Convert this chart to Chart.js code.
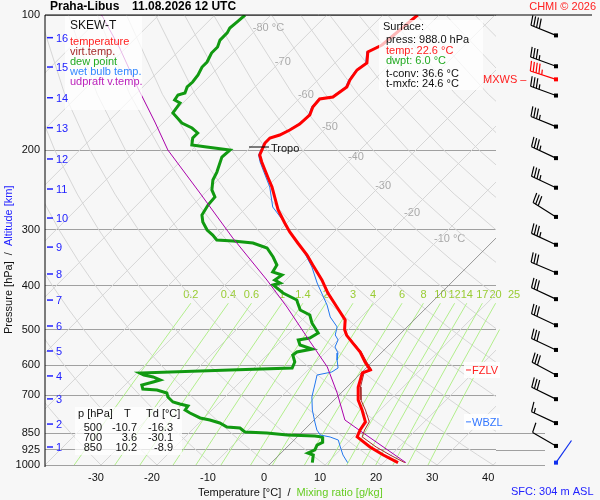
<!DOCTYPE html>
<html>
<head>
<meta charset="utf-8">
<script src="https://cdn.jsdelivr.net/npm/chart.js@4.4.1/dist/chart.umd.min.js"></script>
<style>
    html, body { margin: 0; padding: 0; background: #f7f7f7; }
    #wrap { width: 600px; height: 500px; position: relative; }
</style>
</head>
<body>
<div id="wrap"><canvas id="skewt"></canvas></div>
<script>
// sounding Praha-Libus 11.08.2026 12 UTC
const tempP = [100, 116.6, 120.8, 127.8, 132.5, 139.4, 144.5, 152.1, 153.7, 160.1, 166.8, 174.7, 180.1, 184.8, 187.7, 192.5, 199.5, 204.7, 212.1, 221, 230.2, 241.1, 255.1, 271.2, 289.9, 303.5, 321.1, 341.5, 359.4, 388, 414.8, 445.6, 476.2, 500, 515, 536, 561, 590, 615, 624, 671, 717, 755, 802, 836, 866, 912, 950, 988];
const tempT = [-53.8, -54.8, -56.1, -54.3, -54.8, -54.3, -53.6, -54.3, -56.3, -56.1, -55.2, -55.4, -56.1, -57.0, -58.2, -58.2, -57.5, -57.0, -55.4, -53.4, -51.4, -49.1, -46.6, -43.9, -40.4, -37.9, -34.5, -30.7, -27.9, -23.6, -20.2, -16.1, -12.3, -10.7, -9.3, -6.8, -3.9, -1.3, 1.1, 0.2, 2.0, 4.3, 6.8, 9.5, 10.0, 10.7, 14.8, 18.6, 22.6];
const virtT = [-53.8, -54.8, -56.1, -54.3, -54.8, -54.3, -53.6, -54.3, -56.3, -56.1, -55.2, -55.4, -56.1, -57.0, -58.2, -58.2, -57.5, -57.0, -55.4, -53.4, -51.4, -49.1, -46.6, -43.9, -40.4, -37.9, -34.4, -30.6, -27.8, -23.5, -20.1, -16.0, -12.2, -10.6, -9.2, -6.6, -3.7, -1.0, 1.4, 0.5, 2.4, 4.8, 7.4, 10.2, 10.8, 11.6, 15.9, 19.8, 23.8];

const dewP = [100, 103.7, 106.9, 109.6, 113.7, 117.8, 121.5, 127.2, 130.5, 135.9, 140.9, 144.5, 149.1, 150.6, 154.5, 156.9, 165.1, 173.8, 178.3, 182.9, 187.6, 194.5, 196.5, 199.5, 206.8, 223.4, 232.6, 244.8, 253.8, 264.4, 278.3, 288.4, 300.5, 308.3, 316.2, 317.9, 321.1, 329.4, 345, 359.4, 372.5, 378.3, 388.1, 394.1, 398.1, 414.8, 429.9, 436.5, 452.5, 464.2, 483.5, 508.9, 522.1, 527.4, 541.2, 552.4, 560.9, 569.6, 590.3, 608.7, 615, 624.5, 631, 637.4, 647.3, 653.9, 664, 677.8, 681.3, 691.8, 706.1, 724.4, 731.9, 739.4, 754.6, 766.3, 786.1, 794.3, 806.6, 823.3, 827.5, 844.6, 848.9, 857.7, 862.1, 866.5, 890, 903, 926, 940.5, 950, 988];
const dewT = [-84.6, -84.8, -85.0, -84.6, -84.6, -83.8, -83.8, -83.0, -83.0, -82.3, -82.0, -82.1, -81.4, -82.3, -82.0, -80.5, -80.0, -76.6, -73.9, -72.0, -72.0, -70.9, -67.9, -63.2, -63.4, -61.6, -60.9, -59.3, -57.5, -57.3, -56.6, -55.2, -53.0, -51.1, -49.5, -46.4, -42.5, -39.1, -36.4, -34.3, -33.8, -31.6, -32.0, -30.5, -31.4, -28.2, -24.5, -23.8, -22.1, -19.5, -17.7, -14.8, -15.4, -17.1, -15.9, -13.0, -15.2, -15.4, -13.8, -13.2, -23.9, -39.5, -38.4, -36.4, -34.6, -35.5, -37.0, -36.1, -33.4, -31.1, -30.2, -28.4, -26.8, -25.0, -24.8, -23.4, -20.7, -18.6, -16.3, -14.3, -11.8, -10.2, -6.1, -2.1, 3.0, 4.5, 5.5, 5.0, 5.5, 4.8, 6.1, 7.3];

const wetP = [100, 116.6, 120.8, 127.8, 132.5, 139.4, 144.5, 152.1, 153.7, 160.1, 166.8, 174.7, 180.1, 184.8, 187.7, 192.5, 199.5, 204.7, 212.1, 223.4, 241.1, 267.1, 285.5, 311.5, 332.9, 363.1, 394.1, 429.9, 441.1, 468.9, 493.4, 514.1, 527.4, 546.7, 563.7, 584.3, 608.7, 621.3, 631, 657.3, 706.1, 754.6, 802.5, 836.3, 857.7, 866.5, 880.1, 912, 950.1, 988];
const wetT = [-54.0, -55.0, -56.3, -54.5, -55.0, -54.5, -53.8, -54.5, -56.5, -56.3, -55.4, -55.6, -56.3, -57.2, -58.4, -58.4, -57.7, -57.2, -55.7, -53.2, -49.5, -45.4, -41.3, -36.4, -32.3, -27.7, -23.9, -19.5, -18.2, -15.5, -12.5, -11.4, -10.0, -9.3, -7.7, -6.6, -5.0, -5.4, -7.5, -6.4, -4.5, -2.1, 0.5, 2.3, 3.8, 5.9, 7.9, 9.5, 11.4, 13.6];

const updP = [100, 118.4, 145.3, 172.9, 199.5, 248.6, 313, 388.1, 445.6, 519.4, 605.6, 691.8, 794.3, 848.9, 988];
const updT = [-110.2, -101.1, -90.7, -81.6, -74.3, -60.9, -47.0, -33.4, -25.0, -16.1, -7.1, -0.7, 5.5, 11.1, 24.0];

// wind barbs (one per km + max wind + surface)
const windP = [111, 130, 139, 151, 177, 208, 242, 281, 324, 374, 428, 489, 555, 631, 714, 807, 907, 988];
const windDir = [292, 290, 288, 290, 292, 295, 295, 302, 295, 293, 295, 295, 295, 298, 296, 295, 300, 35];
const windKt = [40, 35, 45, 35, 35, 35, 35, 30, 35, 30, 30, 30, 30, 30, 30, 15, 10, 0];

const altKm = [1, 2, 3, 4, 5, 6, 7, 8, 9, 10, 11, 12, 13, 14, 15, 16];
const altP = [912, 811, 713, 634, 558, 491, 430, 376.3, 327.9, 282.6, 243.6, 208.9, 178.0, 152.7, 130.5, 112.3];

const pTicks = [100, 200, 300, 400, 500, 600, 700, 850, 925, 1000];
const isoLabelT = [-80, -70, -60, -50, -40, -30, -20, -10];
const isoLabelP = [106.9, 127.2, 150.6, 177.4, 206.9, 239.7, 275.3, 314.7];
const mixW = [0.2, 0.4, 0.6, 1, 1.4, 2, 3, 4, 6, 8, 10, 12, 14, 17, 20, 25];

const tableP = [500, 700, 850];
const tableT = [-10.7, 3.6, 10.2];
const tableTd = [-16.3, -30.1, -8.9];

const levelNames = ['Tropo', 'MXWS', 'FZLV', 'WBZL'];
const levelP = [196.5, 139, 615, 802];

const sfcPress = 988.0, sfcTemp = 22.6, sfcDwpt = 6.0, tConv = 36.6, tMxfc = 24.6;

// skew-T geometry
const X_MIN = -39.1, X_MAX = 41.4;
const SKEW = 80.32;     // degC shift per decade of pressure (45 deg isotherms)
const P_REF = 1026;     // level where the temperature axis labels sit
const MIX_TOP = 437;
const FONT = '"Liberation Sans", Arial, sans-serif';

const skewX = (t, p) => t + SKEW * Math.log10(P_REF / p);
const toPts = (ps, ts) => ps.map((p, i) => ({x: skewX(ts[i], p), y: p}));
const mixTd = (w, p) => {
    let e = w * p / (622 + w);
    let a = Math.log(e / 6.112);
    return 243.5 * a / (17.67 - a);
};

const line = (pts, color, width, extra) => Object.assign({
    data: pts, borderColor: color, borderWidth: width, showLine: true,
    pointRadius: 0, fill: false, tension: 0
}, extra || {});

let datasets = [
    line(toPts(tempP, tempT), '#ff0000', 3),
    line(toPts(tempP, virtT), '#a52a2a', 1),
    line(toPts(updP, updT), '#aa00aa', 1),
    line(toPts(wetP, wetT), '#2277ee', 1),
    line(toPts(dewP, dewT), '#119911', 3),
    line([{x: skewX(0, 1040), y: 1040}, {x: skewX(0, 100), y: 100}], '#808080', 0.8)
];

mixW.forEach(w => {
    let ps = [1000, 900, 800, 700, 600, 500, MIX_TOP];
    datasets.push(line(ps.map(p => ({x: skewX(mixTd(w, p), p), y: p})), '#b2ee8c', 1, {clip: false}));
});

for (let t = -130; t <= 40; t += 10) {
    if (t === 0) continue;
    datasets.push(line([{x: skewX(t, 1100), y: 1100}, {x: skewX(t, 100), y: 100}], '#d6d6d6', 1));
}

for (let th = -40; th <= 190; th += 10) {
    let pts = [];
    for (let p = 1100; p >= 100; p -= 50) {
        let t = (th + 273.15) * Math.pow(p / 1000, 0.2857) - 273.15;
        pts.push({x: skewX(t, p), y: p});
    }
    datasets.push(line(pts, '#d6d6d6', 1));
}

function drawBarb(ctx, x0, y0, dir, kt, color) {
    let a = dir * Math.PI / 180;
    let ux = Math.sin(a), uy = -Math.cos(a);
    let tx = x0 + ux * 27, ty = y0 + uy * 27;
    let px = -uy, py = ux;
    ctx.strokeStyle = color;
    ctx.fillStyle = color;
    ctx.lineWidth = 1.2;
    ctx.beginPath();
    ctx.moveTo(x0, y0);
    ctx.lineTo(tx, ty);
    ctx.stroke();
    ctx.fillRect(x0 - 2, y0 - 2, 4, 4);
    let n = Math.floor(kt / 10), d = 0;
    for (let i = 0; i < n; i++, d += 3) {
        let bx = tx - ux * d, by = ty - uy * d;
        ctx.beginPath();
        ctx.moveTo(bx, by);
        ctx.lineTo(bx + px * 10 + ux * 2, by + py * 10 + uy * 2);
        ctx.stroke();
    }
    if (kt % 10 >= 5) {
        if (n === 0) d = 3;
        let bx = tx - ux * d, by = ty - uy * d;
        ctx.beginPath();
        ctx.moveTo(bx, by);
        ctx.lineTo(bx + px * 5 + ux, by + py * 5 + uy);
        ctx.stroke();
    }
}

function textRun(ctx, parts, x, y) {
    parts.forEach(([txt, col]) => {
        ctx.fillStyle = col;
        ctx.fillText(txt, x, y);
        x += ctx.measureText(txt).width;
    });
}

const decor = {
    id: 'decor',
    beforeDatasetsDraw(chart) {
        const {ctx, scales: {x, y}} = chart;
        ctx.save();
        ctx.font = '11px ' + FONT;
        ctx.textBaseline = 'middle';
        // mixing ratio labels
        ctx.textAlign = 'center';
        ctx.fillStyle = '#99cc33';
        mixW.forEach(w => {
            ctx.fillText(String(w), x.getPixelForValue(skewX(mixTd(w, MIX_TOP), MIX_TOP)), y.getPixelForValue(MIX_TOP) - 8);
        });
        // isotherm labels
        ctx.textAlign = 'left';
        ctx.fillStyle = '#a8a8a8';
        isoLabelT.forEach((t, i) => {
            let lbl = (t === -80 || t === -10) ? t + ' °C' : String(t);
            ctx.fillText(lbl, x.getPixelForValue(skewX(t, isoLabelP[i])) - 5, y.getPixelForValue(isoLabelP[i]));
        });
        ctx.restore();
    },
    afterDraw(chart) {
        const {ctx, chartArea: ca, scales: {x, y}} = chart;
        ctx.save();

        // frame: black top and left edges, lower isobars run on to the barbs
        ctx.strokeStyle = '#000';
        ctx.lineWidth = 1;
        ctx.beginPath();
        ctx.moveTo(ca.left, ca.bottom + 2);
        ctx.lineTo(ca.left, ca.top);
        ctx.lineTo(592, ca.top);
        ctx.stroke();
        ctx.strokeStyle = '#a0a0a0';
        [850, 925, 1000].forEach(p => {
            let yy = Math.round(y.getPixelForValue(p)) + 0.5;
            ctx.beginPath();
            ctx.moveTo(ca.right, yy);
            ctx.lineTo(545, yy);
            ctx.stroke();
        });

        // title
        ctx.textBaseline = 'middle';
        ctx.textAlign = 'left';
        ctx.font = 'bold 12px ' + FONT;
        ctx.fillStyle = '#000';
        ctx.fillText('Praha-Libus', 50, 7);
        ctx.fillText('11.08.2026 12 UTC', 132, 7);
        ctx.font = '11px ' + FONT;
        ctx.fillStyle = '#ff2020';
        ctx.textAlign = 'right';
        ctx.fillText('CHMI © 2026', 596, 7);

        // semi transparent boxes
        ctx.fillStyle = 'rgba(255,255,255,0.72)';
        ctx.fillRect(65, 16, 77, 94);
        ctx.fillRect(379, 20, 104, 70);
        ctx.fillRect(75, 407, 107, 48);

        // legend
        ctx.textAlign = 'left';
        ctx.font = '12px ' + FONT;
        ctx.fillStyle = '#111';
        ctx.fillText('SKEW-T', 70, 26);
        ctx.font = '11px ' + FONT;
        [['temperature', '#ff2020'], ['virt.temp.', '#a52a2a'], ['dew point', '#22aa22'],
         ['wet bulb temp.', '#3388ff'], ['udpraft v.temp.', '#bb22bb']].forEach(([t, c], i) => {
            ctx.fillStyle = c;
            ctx.fillText(t, 70, 42 + i * 10);
        });

        // surface box
        ctx.fillStyle = '#111';
        ctx.fillText('Surface:', 383, 27);
        ctx.fillText('press: ' + sfcPress.toFixed(1) + ' hPa', 386, 40);
        ctx.fillStyle = '#ff2020';
        ctx.fillText('temp: ' + sfcTemp.toFixed(1) + ' °C', 386, 51);
        ctx.fillStyle = '#22aa22';
        ctx.fillText('dwpt: ' + sfcDwpt.toFixed(1) + ' °C', 386, 61);
        ctx.fillStyle = '#111';
        ctx.fillText('t-conv: ' + tConv.toFixed(1) + ' °C', 386, 74);
        ctx.fillText('t-mxfc: ' + tMxfc.toFixed(1) + ' °C', 386, 84);

        // level table
        ctx.fillText('p [hPa]', 78, 414);
        ctx.fillText('T', 124, 414);
        ctx.fillText('Td [°C]', 146, 414);
        ctx.textAlign = 'right';
        tableP.forEach((p, i) => {
            let yy = 428 + i * 10;
            ctx.fillText(String(p), 102, yy);
            ctx.fillText(tableT[i].toFixed(1), 137, yy);
            ctx.fillText(tableTd[i].toFixed(1), 173, yy);
        });

        // altitude scale
        ctx.textAlign = 'left';
        ctx.strokeStyle = '#2222ff';
        ctx.fillStyle = '#2222ff';
        ctx.lineWidth = 1.5;
        altKm.forEach((km, i) => {
            let yy = y.getPixelForValue(altP[i]);
            ctx.beginPath();
            ctx.moveTo(47, yy);
            ctx.lineTo(53, yy);
            ctx.stroke();
            ctx.fillText(String(km), 56, yy + 1);
        });

        // special levels
        let yTropo = y.getPixelForValue(levelP[0]);
        ctx.strokeStyle = '#000';
        ctx.lineWidth = 1;
        ctx.beginPath();
        ctx.moveTo(249, yTropo);
        ctx.lineTo(269, yTropo);
        ctx.stroke();
        ctx.fillStyle = '#111';
        ctx.fillText(levelNames[0], 271, yTropo + 2);

        let yMx = y.getPixelForValue(levelP[1]);
        ctx.fillStyle = '#ff2020';
        ctx.fillText(levelNames[1] + ' –', 483, yMx + 1);

        [[2, '#ff2020'], [3, '#3377ff']].forEach(([k, c]) => {
            let yy = y.getPixelForValue(levelP[k]);
            ctx.fillStyle = 'rgba(255,255,255,0.85)';
            ctx.fillRect(464, yy - 8, 36, 16);
            ctx.strokeStyle = c;
            ctx.beginPath();
            ctx.moveTo(466, yy);
            ctx.lineTo(471, yy);
            ctx.stroke();
            ctx.fillStyle = c;
            ctx.fillText(levelNames[k], 472, yy + 1);
        });

        // wind barbs
        windP.forEach((p, i) => {
            let col = '#000';
            if (p === levelP[1]) col = '#ff0000';
            if (i === windP.length - 1) col = '#1030ee';
            drawBarb(ctx, 556, y.getPixelForValue(p), windDir[i], windKt[i], col);
        });

        // axis titles
        ctx.font = '11px ' + FONT;
        ctx.textAlign = 'left';
        textRun(ctx, [['Temperature [°C]  /  ', '#111'], ['Mixing ratio [g/kg]', '#66cc22']], 198, 493);
        ctx.save();
        ctx.translate(9, 334);
        ctx.rotate(-Math.PI / 2);
        textRun(ctx, [['Pressure [hPa]  /  ', '#111'], ['Altitude [km]', '#2222ff']], 0, 0);
        ctx.restore();

        ctx.fillStyle = '#2222ff';
        ctx.fillText('SFC: 304 m ASL', 511, 492);
        ctx.restore();
    }
};

Chart.defaults.font.family = FONT;

new Chart(document.getElementById('skewt'), {
    type: 'scatter',
    data: {datasets: datasets},
    options: {
        responsive: true,
        maintainAspectRatio: false,
        animation: false,
        layout: {padding: {left: 0, right: 104, top: 15, bottom: 0}},
        plugins: {legend: {display: false}, tooltip: {enabled: false}},
        scales: {
            x: {
                type: 'linear', min: X_MIN, max: X_MAX,
                afterFit: s => { s.height = 35; },
                grid: {display: false, drawTicks: false},
                border: {display: false},
                ticks: {stepSize: 10, includeBounds: false, padding: 6, color: '#111', font: {size: 11}}
            },
            y: {
                type: 'logarithmic', reverse: true, min: 100, max: 1000,
                afterFit: s => { s.width = 45; },
                afterBuildTicks: s => { s.ticks = pTicks.map(v => ({value: v})); },
                grid: {color: '#a0a0a0', lineWidth: 1, drawTicks: false},
                border: {display: false},
                ticks: {autoSkip: false, padding: 5, color: '#111', font: {size: 11}, callback: v => String(v)}
            }
        }
    },
    plugins: [decor]
});
</script>
</body>
</html>
